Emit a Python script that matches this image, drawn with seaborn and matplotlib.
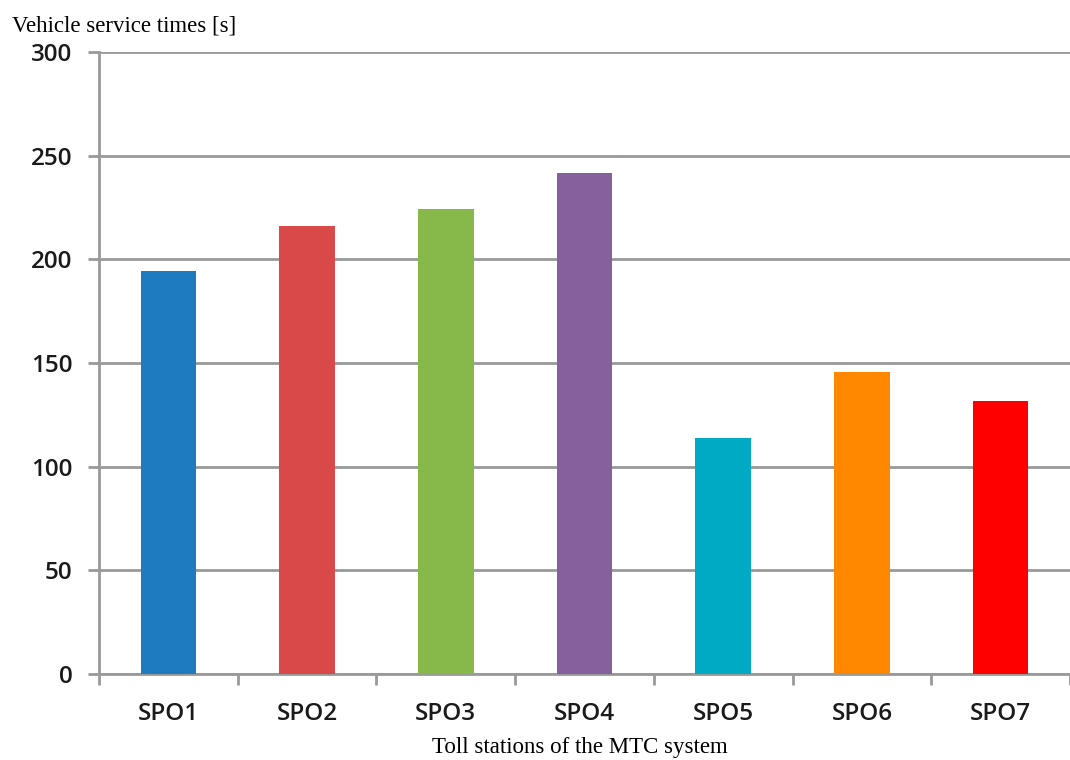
import matplotlib
matplotlib.use("Agg")
import matplotlib.pyplot as plt
import seaborn as sns
import pandas as pd

stations = ["SPO1", "SPO2", "SPO3", "SPO4", "SPO5", "SPO6", "SPO7"]
service_times = [194.5, 216, 224.5, 241.5, 114, 145.5, 131.5]
bar_colors = ["#1F7BBF", "#D9494A", "#86B84A", "#84609C", "#00A9C4", "#FF8800", "#FF0000"]
y_ticks = [0, 50, 100, 150, 200, 250, 300]

sns.set_theme(style="white")
plt.rcParams["font.family"] = ["Open Sans", "DejaVu Sans"]

df = pd.DataFrame({"station": stations, "time": service_times})

fig = plt.figure(figsize=(10.7, 7.6), dpi=100)
ax = fig.add_axes([99 / 1070, 1 - 674 / 760, (1070 - 99) / 1070, (674 - 52) / 760])

sns.barplot(data=df, x="station", y="time", hue="station", palette=bar_colors,
            width=0.4, legend=False, ax=ax, saturation=1, linewidth=0, zorder=3)

ax.set_ylim(0, 300)
ax.set_xlim(-0.5, len(stations) - 0.5)
ax.set_yticks(y_ticks)
ax.set_yticklabels([str(v) for v in y_ticks], fontsize=17.5, fontweight="semibold", color="#1a1a1a")
ax.set_xticks(range(len(stations)))
ax.set_xticklabels(stations, fontsize=17.5, fontweight="semibold", color="#1a1a1a")

# gridlines
ax.yaxis.grid(True, color="#999999", linewidth=2, zorder=0)
ax.set_axisbelow(True)

for side in ["top", "right"]:
    ax.spines[side].set_visible(False)
for side in ["left", "bottom"]:
    ax.spines[side].set_color("#999999")
    ax.spines[side].set_linewidth(2)

# category boundary ticks on the x axis
ax.tick_params(axis="x", which="major", length=0, pad=20)
ax.set_xticks([i - 0.5 for i in range(len(stations) + 1)], minor=True)
ax.tick_params(axis="x", which="minor", length=8, width=2, color="#999999", direction="out", bottom=True)
ax.tick_params(axis="y", length=8, width=2, color="#999999", direction="out", left=True, pad=11)

ax.set_xlabel("")
ax.set_ylabel("")

fig.text(12 / 1070, 1 - 26 / 760, "Vehicle service times [s]", family="Liberation Serif",
         fontsize=16.5, va="center", ha="left", color="black")
fig.text(580 / 1070, 1 - 747 / 760, "Toll stations of the MTC system", family="Liberation Serif",
         fontsize=16.5, va="center", ha="center", color="black")

fig.savefig("out.png", dpi=100)
